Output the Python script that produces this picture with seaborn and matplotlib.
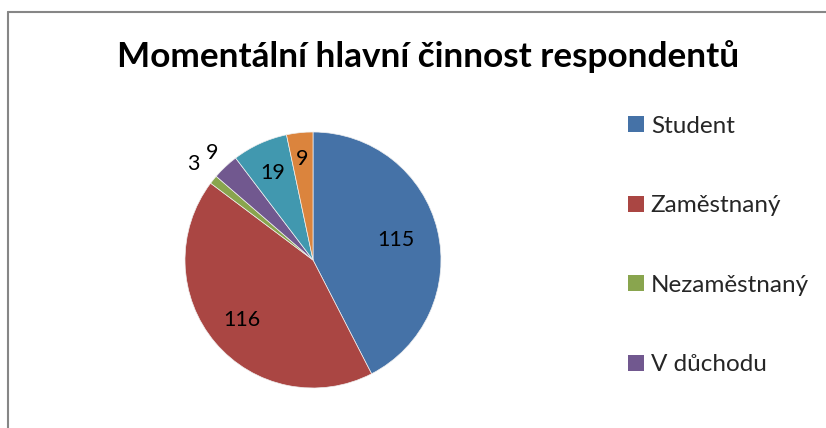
import matplotlib
matplotlib.use("Agg")
import matplotlib.pyplot as plt
import seaborn as sns
import numpy as np
from matplotlib.patches import Patch

title = "Momentální hlavní činnost respondentů"
categories = ["Student", "Zaměstnaný", "Nezaměstnaný", "V důchodu", "Jiné", "Mateřská dovolená"]
values = [115, 116, 3, 9, 19, 9]
colors = ["#4572A7", "#AA4643", "#89A54E", "#71588F", "#4198AF", "#DB843D"]
label_dist = [0.67, 0.73, 1.2, 1.15, 0.75, 0.79]
legend_shown = 4

sns.set_theme(style="white")
plt.rcParams["font.family"] = ["Lato", "DejaVu Sans"]

W, H = 826, 428
fig = plt.figure(figsize=(W / 100, H / 100), dpi=100)

# frame (gray border at left/top)
fig.add_artist(plt.Line2D([8 / W, 8 / W], [0, 1 - 12 / H], color="#868686", lw=1.5))
fig.add_artist(plt.Line2D([8 / W, 1], [1 - 12 / H, 1 - 12 / H], color="#868686", lw=1.5))

cx, cy, r = 313, 260, 128
ax = fig.add_axes([(cx - r) / W, (H - cy - r) / H, 2 * r / W, 2 * r / H])
wedges, _ = ax.pie(values, colors=colors, startangle=90, counterclock=False,
                   wedgeprops=dict(linewidth=0.5, edgecolor="#f0f0f0"))
ax.set_xlim(-1, 1)
ax.set_ylim(-1, 1)
ax.set_aspect("equal")

for w, v, d in zip(wedges, values, label_dist):
    ang = np.deg2rad((w.theta1 + w.theta2) / 2)
    ax.text(d * np.cos(ang), d * np.sin(ang), str(v), ha="center", va="center",
            fontsize=15.5, color="black")

fig.text(428 / W, 1 - 57 / H, title, ha="center", va="center",
         fontsize=25.3, fontweight="bold", color="black")

handles = [Patch(facecolor=c, edgecolor="none") for c in colors[:legend_shown]]
leg = fig.legend(handles, categories[:legend_shown], loc="upper left",
                 bbox_to_anchor=(618 / W, 1 - 106 / H), frameon=False,
                 fontsize=17.5, handlelength=0.65, handleheight=0.65,
                 handletextpad=0.3, labelspacing=2.41, borderaxespad=0)

fig.savefig("out.png", dpi=100, facecolor="white")
